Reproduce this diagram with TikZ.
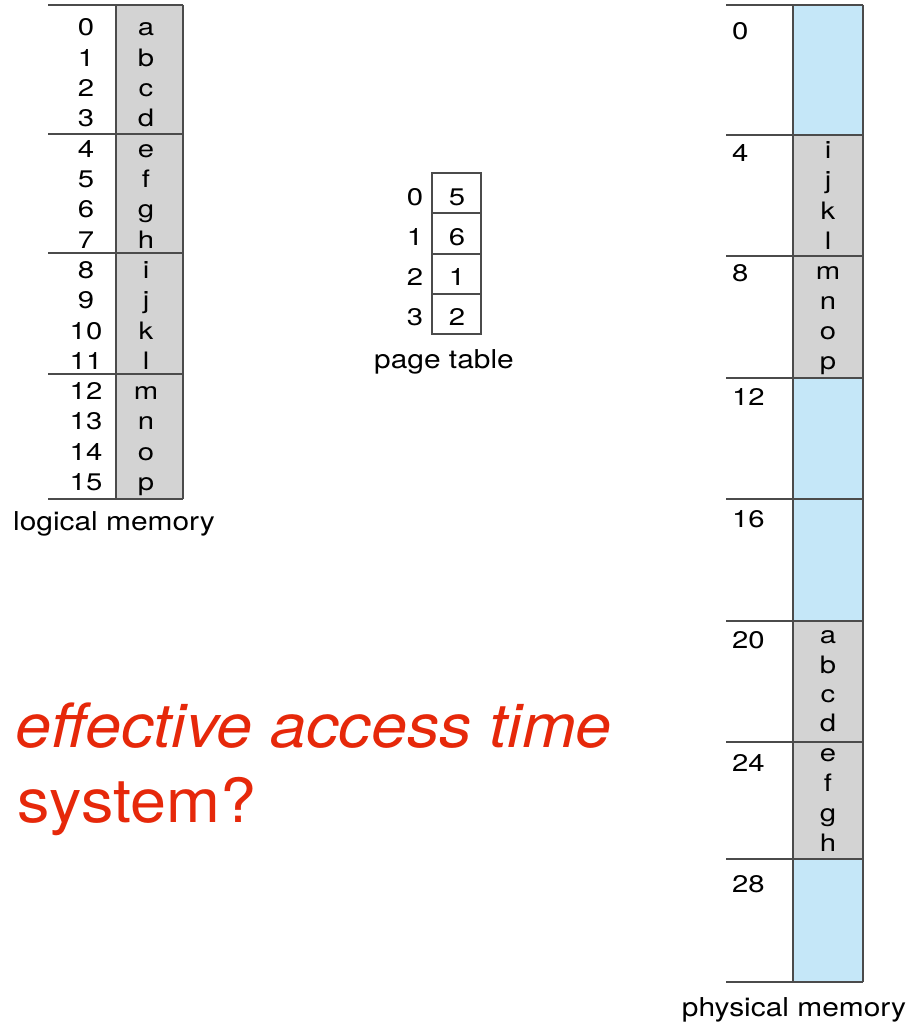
\documentclass[tikz,border=0pt]{standalone}
\usepackage{fontspec}
\setmainfont{TeX Gyre Heros}
\newfontfamily\cellfont[FakeStretch=1.22]{TeX Gyre Heros}
\newfontfamily\capfont[FakeStretch=1.15]{TeX Gyre Heros}
\newfontfamily\qfont[FakeStretch=1.06]{TeX Gyre Heros}
\definecolor{linegray}{RGB}{75,75,75}
\definecolor{pagegray}{RGB}{211,211,211}
\definecolor{freeblue}{RGB}{197,231,248}
\definecolor{qred}{RGB}{230,40,10}
\tikzset{
  memline/.style={draw=linegray, line width=1.6pt},
  cell/.style={font=\cellfont\fontsize{24}{29}\selectfont, inner sep=0pt, anchor=base},
  caption/.style={font=\capfont\fontsize{26}{31}\selectfont, inner sep=0pt, anchor=base},
  question/.style={font=\qfont\fontsize{61}{70}\selectfont\itshape, text=qred, inner sep=0pt, anchor=base west},
  question2/.style={font=\qfont\fontsize{61}{70}\selectfont, text=qred, inner sep=0pt, anchor=base west},
}
\begin{document}
\begin{tikzpicture}[x=1pt,y=-1pt]
\useasboundingbox (0,0) rectangle (913,1027);
\fill[white] (0,0) rectangle (913,1027);
% ---------- logical memory ----------
\fill[pagegray] (116,5) rectangle (183,499);
\foreach \yy in {5,134,253,374,499} \draw[memline] (48,\yy) -- (183,\yy);
\draw[memline] (116,5) -- (116,499);
\draw[memline] (183,5) -- (183,499);
\foreach \n/\c [count=\i from 0] in {0/a,1/b,2/c,3/d,4/e,5/f,6/g,7/h,8/i,9/j,10/k,11/l,12/m,13/n,14/o,15/p}{
  \node[cell] (ln\n) at (86,{36+30.3*\i}) {\n};
  \node[cell] (lc\n) at (146,{36+30.3*\i}) {\c};
}
\node[caption] (lmcap) at (114,530) {logical memory};
% ---------- page table ----------
\draw[memline] (432,173) rectangle (481,334);
\foreach \yy in {213,254,294} \draw[memline] (432,\yy) -- (481,\yy);
\foreach \p/\f [count=\i from 0] in {0/5,1/6,2/1,3/2}{
  \node[cell] (pi\p) at (415,{205+40*\i}) {\p};
  \node[cell] (pf\p) at (457,{205+40*\i}) {\f};
}
\node[caption] (ptcap) at (444,368) {page table};
% ---------- physical memory ----------
\foreach \ya/\yb/\col in {5/135/freeblue,135/256/pagegray,256/378/pagegray,378/499/freeblue,499/621/freeblue,621/742/pagegray,742/859/pagegray,859/982/freeblue}
  \fill[\col] (793,\ya) rectangle (863,\yb);
\foreach \yy in {5,135,256,378,499,621,742,859,982} \draw[memline] (726,\yy) -- (863,\yy);
\draw[memline] (793,5) -- (793,982);
\draw[memline] (863,5) -- (863,982);
\foreach \a/\yy in {0/40,4/162,8/281,12/405,16/527,20/648,24/771,28/892}
  \node[cell, anchor=base west] (pa\a) at (732,\yy) {\a};
\foreach \c/\yy in {i/159,j/189,k/219,l/249,m/279,n/309,o/339,p/369,a/643,b/673,c/702,d/731,e/761,f/791,g/821,h/851}
  \node[cell] (pc\c) at (828,\yy) {\c};
\node[caption] (pmcap) at (794,1016) {physical memory};
% ---------- question ----------
\node[question] (q1) at (15,747) {effective access time};
\node[question2] (q2) at (17,822) {system?};
\end{tikzpicture}
\end{document}
